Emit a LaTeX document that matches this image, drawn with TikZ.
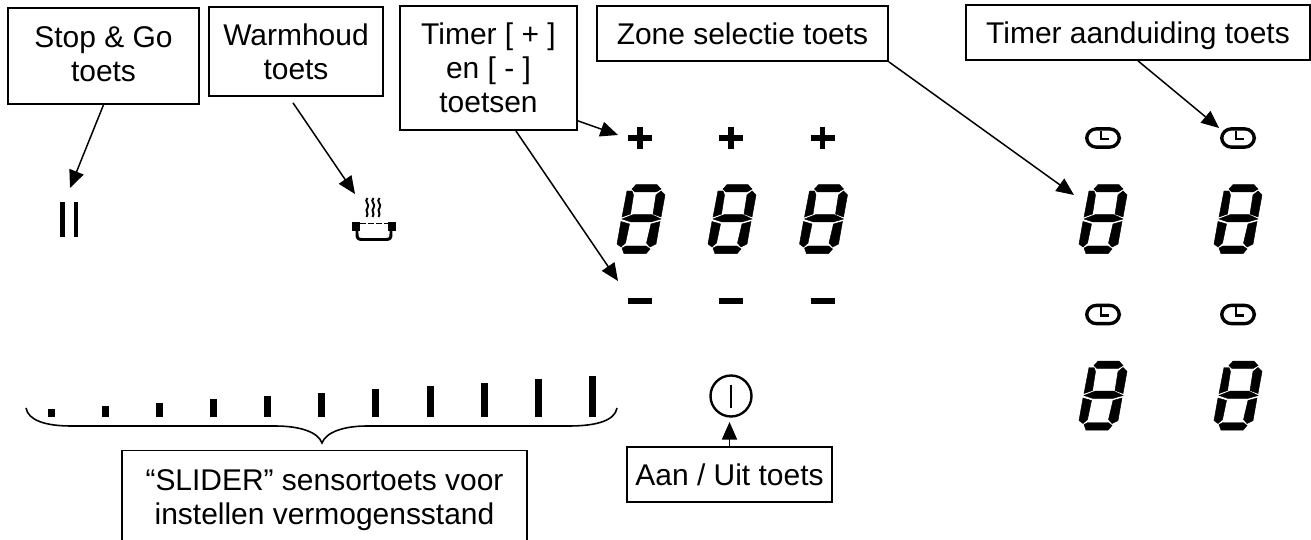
\documentclass[tikz,border=0pt]{standalone}
\usepackage{fontspec}
\setmainfont{Liberation Sans}
\usetikzlibrary{arrows.meta}

\tikzset{
	label box/.style={draw, line width=1pt, align=center, inner sep=0pt, font=\fontsize{17.05}{19.5}\selectfont},
	pointer/.style={line width=0.85pt, -{Triangle[length=10pt, width=8.6pt]}},
	clock face/.style={draw, line width=1.9pt, rounded corners=5.5pt, minimum width=18.6pt, minimum height=10.4pt, inner sep=0pt, outer sep=0pt},
	segment/.style={fill, draw, line width=0.25pt},
}

% one seven segment digit around its centre
\newcommand{\segdigit}[2]{
	\begin{scope}[shift={(#1, #2)}]
		\path[segment] (-9, -30) -- (-5, -34.3) -- (16, -34.3) -- (20, -30) -- (15, -27) -- (-6, -27) -- cycle;
		\path[segment] (-19, 0) -- (-8, -4.3) -- (11, -4.3) -- (20, 0) -- (9.5, 3) -- (-10, 3) -- cycle;
		\path[segment] (-19, 29) -- (-15, 27) -- (5, 27) -- (9, 30) -- (5, 34.7) -- (-17, 34.7) -- cycle;
		\path[segment] (-9, -28) -- (-14, -28) -- (-19, -2) -- (-10.5, -5) -- (-7.5, -24) -- cycle;
		\path[segment] (-20, 2.5) -- (-11.5, 5) -- (-15.5, 24) -- (-20, 28) -- (-24, 25) -- cycle;
		\path[segment] (20, -28) -- (24, -24) -- (20, -2) -- (12, -5) -- (15, -24) -- cycle;
		\path[segment] (19, 2.5) -- (15, 25) -- (9, 28) -- (5.5, 24) -- (10, 5) -- cycle;
	\end{scope}
}

\begin{document}
\begin{tikzpicture}[x=0.02cm, y=-0.02cm]
	\useasboundingbox (0, 0) rectangle (1311, 540);
	\clip (0, 0) rectangle (1311, 540);

	% labels
	\node[label box, minimum width=3.82cm, minimum height=1.92cm, text depth=2.3pt] (stopgo) at (103.5, 56) {Stop \& Go\\toets};
	\node[label box, minimum width=3.48cm, minimum height=1.78cm] (warmhoud) at (296, 51.5) {Warmhoud\\toets};
	\node[label box, minimum width=3.54cm, minimum height=2.48cm] (timer) at (488.5, 68) {Timer [ + ]\\en [ - ]\\toetsen};
	\node[label box, minimum width=5.82cm, minimum height=1.1cm, text depth=0pt] (zone) at (742.5, 33.5) {Zone selectie toets};
	\node[label box, minimum width=6.88cm, minimum height=1.1cm, text depth=0pt] (timeraan) at (1138, 32.5) {Timer aanduiding toets};
	\node[label box, minimum width=4.1cm, minimum height=1.1cm, text depth=0pt] (aanuit) at (729.5, 474.5) {Aan / Uit toets};
	\node[label box, minimum width=8.1cm, minimum height=1.98cm] (slider) at (324.5, 500) {``SLIDER'' sensortoets voor\\instellen vermogensstand};

	% arrow ends
	\coordinate (pausetip) at (70, 188);
	\coordinate (pottip) at (355, 194);
	\coordinate (plustip) at (618, 135);
	\coordinate (minustip) at (618, 281);
	\coordinate (digittip) at (1074, 195);
	\coordinate (clocktip) at (1219, 128);
	\coordinate (powertip) at (729.5, 422);

	\draw[pointer] (stopgo.south) -- (pausetip);
	\draw[pointer] ([shift={(-3, 6)}]warmhoud.south) -- (pottip);
	\draw[pointer] ([shift={(0, -10)}]timer.south east) -- (plustip);
	\draw[pointer] ([shift={(-62, 0)}]timer.south east) -- (minustip);
	\draw[pointer] (zone.south east) -- (digittip);
	\draw[pointer] (timeraan.south) -- (clocktip);
	\draw[pointer] (aanuit.north) -- (powertip);

	% pause
	\fill (60, 202) rectangle (64.5, 237);
	\fill (73.5, 202) rectangle (78, 237);

	% pot with steam
	\foreach \x in {367.5, 373.5, 379.5} {
		\draw[line width=1.1pt] (\x, 198) .. controls (\x - 4, 202) and (\x + 3, 204) .. (\x, 208) .. controls (\x - 3, 211) and (\x + 2, 213) .. (\x - 1, 217);
	}
	\draw[line width=1.7pt] (357, 226) -- (357, 234) .. controls (357, 238) and (358, 239.5) .. (362, 239.5) -- (386, 239.5) .. controls (390, 239.5) and (391, 238) .. (391, 234) -- (391, 226);
	\fill (352, 222) rectangle (360, 231);
	\fill (388, 222) rectangle (396, 231);
	\draw[line width=1.1pt, dash pattern=on 3.4pt off 1.2pt] (360, 223.5) -- (388, 223.5);

	% timer keys and digits
	\foreach \x in {640, 731, 822.5} {
		\draw[line width=3.4pt] (\x - 12, 138) -- (\x + 12, 138);
		\draw[line width=3.4pt] (\x, 127) -- (\x, 149);
		\draw[line width=3.4pt] (\x - 12, 301) -- (\x + 12, 301);
		\segdigit{\x + 1}{219}
	}

	% zone digits and clocks
	\foreach \x in {1103, 1238} {
		\foreach \y/\d in {138/219, 314.5/395.5} {
			\node[clock face] (clock\x\y) at (\x, \y) {};
			\draw[line width=1.4pt] (\x - 2, \y - 7) -- (\x - 2, \y + 1) -- (\x + 6, \y + 1);
			\segdigit{\x}{\d}
		}
	}

	% slider
	\foreach \n in {0, ..., 10} {
		\fill ({48 + 54.08 * \n}, {409.3 - 3.33 * \n}) rectangle ({55 + 54.08 * \n}, 417);
	}
	\draw[line width=0.9pt] (26, 408) .. controls (28, 420) and (45, 426) .. (71, 426) -- (275, 426) .. controls (300, 426) and (318, 432) .. (322, 443) .. controls (326, 432) and (344, 426) .. (367, 426) -- (569, 426) .. controls (598, 426) and (615, 420) .. (617, 408);

	% power
	\draw[line width=1.35pt] (731, 396) circle (20.5);
	\draw[line width=1.35pt] (731, 385) -- (731, 408);
\end{tikzpicture}
\end{document}
